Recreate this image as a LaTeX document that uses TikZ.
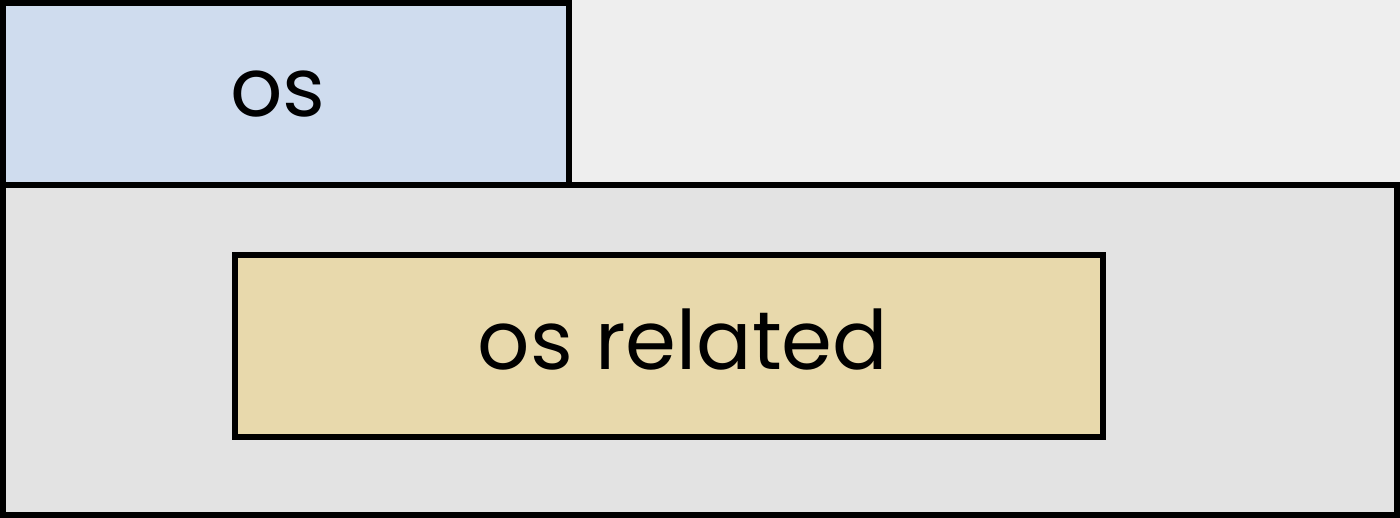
\documentclass[tikz,border=0pt]{standalone}
\usepackage{fontspec}
\setmainfont{Poppins}
\definecolor{bgcol}{HTML}{EEEEEE}
\definecolor{bluecol}{HTML}{CFDCEE}
\definecolor{graycol}{HTML}{E3E3E3}
\definecolor{tancol}{HTML}{E8D9AC}
\tikzset{
  boxstyle/.style={draw=black, line width=6pt, rectangle, inner sep=0pt, font=\fontsize{82}{96}\selectfont}
}
\begin{document}
\begin{tikzpicture}[x=1pt,y=-1pt]
\fill[bgcol] (0,0) rectangle (1400,518);
\useasboundingbox (0,0) rectangle (1400,518);
\node[boxstyle, fill=graycol, minimum width=1394pt, minimum height=330pt] (outer) at (700,350) {};
\node[boxstyle, fill=bluecol, minimum width=566pt, minimum height=182pt] (os) at (286,94) {os\hspace*{16pt}};
\node[boxstyle, fill=tancol, minimum width=868pt, minimum height=182pt, text depth=14pt] (rel) at (669,346) {\hspace*{28pt}os related};
\end{tikzpicture}
\end{document}
